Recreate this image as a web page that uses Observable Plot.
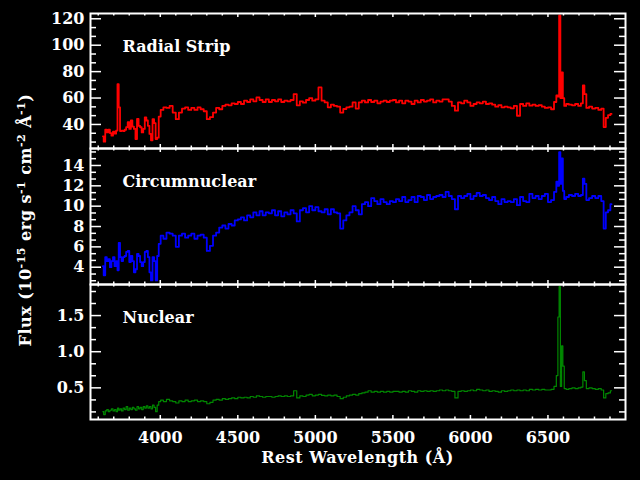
<!DOCTYPE html>
<html>
<head>
<meta charset="utf-8">
<script src="https://cdn.jsdelivr.net/npm/d3@7"></script>
<script src="https://cdn.jsdelivr.net/npm/@observablehq/plot@0.6"></script>
<style>
  html, body { margin: 0; padding: 0; background: #000; }
  #chart { position: relative; width: 640px; height: 480px; background: #000; overflow: hidden; }
  #chart > svg { position: absolute; left: 0; }
</style>
</head>
<body>
<div id="chart"></div>
<script>
// Rest wavelength grid (Å)
const wavelength = [
  3630, 3640, 3650, 3660, 3670, 3680, 3690, 3700, 3710, 3720,
  3728, 3736, 3745, 3755, 3765, 3775, 3785, 3795, 3805, 3815,
  3825, 3835, 3845, 3855, 3865, 3875, 3885, 3895, 3905, 3915,
  3925, 3935, 3945, 3955, 3965, 3975, 3985, 3995,
  4010, 4030, 4050, 4070, 4090, 4110, 4130, 4150, 4170, 4190,
  4210, 4230, 4250, 4270, 4290, 4310, 4330, 4350, 4370, 4390,
  4410, 4430, 4450, 4470, 4490, 4510, 4530, 4550, 4570, 4590,
  4610, 4630, 4650, 4670, 4690, 4710, 4730, 4750, 4770, 4790,
  4810, 4830, 4850, 4870, 4890, 4910, 4930, 4950, 4970, 4990,
  5010, 5030, 5050, 5070, 5090, 5110, 5130, 5150, 5170, 5190,
  5210, 5230, 5250, 5270, 5290, 5310, 5330, 5350, 5370, 5390,
  5410, 5430, 5450, 5470, 5490, 5510, 5530, 5550, 5570, 5590,
  5610, 5630, 5650, 5670, 5690, 5710, 5730, 5750, 5770, 5790,
  5810, 5830, 5850, 5870, 5890, 5910, 5930, 5950, 5970, 5990,
  6010, 6030, 6050, 6070, 6090, 6110, 6130, 6150, 6170, 6190,
  6210, 6230, 6250, 6270, 6290, 6310, 6330, 6350, 6370, 6390,
  6410, 6430, 6450, 6470, 6490,
  6510, 6530, 6548, 6560, 6568, 6576, 6584, 6592, 6600, 6610,
  6625, 6645, 6665, 6685, 6705, 6720, 6730, 6740, 6755, 6775,
  6795, 6815, 6835, 6852, 6866, 6880, 6895, 6910
];

// Flux, radial strip
const radialStrip = [
  31, 27, 36, 34, 36, 33.5, 31.5, 34.6, 33, 35.4,
  70.5, 53, 35, 35.3, 35, 36, 38, 41.7, 36.6, 43,
  38.4, 36.6, 29, 44.2, 39, 37.9, 34, 36.6, 45.4, 43,
  39, 32.8, 28, 44, 41, 29, 30, 46,
  51, 53, 52.5, 54, 49, 44, 49, 52, 53, 51,
  52.5, 51, 53, 51.5, 50, 44, 45.5, 49, 52.5, 51.5,
  54, 55, 54.5, 56, 55.5, 57, 55.5, 58, 57, 59,
  57.5, 60.5, 58.5, 57, 59, 57, 58.5, 57.5, 59, 57,
  58, 57.5, 58.5, 63, 54.5, 57.5, 56.5, 58.5, 60, 58,
  59, 68, 58, 56.7, 53, 55, 54, 53.5, 49, 51.7,
  53, 53.5, 56.7, 52, 56.7, 58, 56.7, 58.5, 57, 58,
  56, 57.3, 58, 57, 58, 58.5, 56.7, 58, 56, 58,
  57.3, 55.5, 58, 56.7, 58.5, 57.3, 58, 59, 56.7, 58,
  57.3, 59, 59, 57.3, 54, 50.4, 56.7, 56, 58, 56.7,
  54, 55.5, 56.7, 56, 57.3, 55.5, 56, 55, 53.5, 54.7,
  53, 53.5, 53, 52.2, 54, 46.6, 55.5, 54, 56, 54.2,
  55, 54, 54.7, 53.5, 52.5,
  53, 51.5, 57, 62, 61, 122.5, 60, 79.5, 60, 54,
  55.5, 55, 54.5, 55.5, 54, 56, 69.5, 63, 52.5, 53.5,
  52, 52.5, 51, 52, 38, 45, 47, 48
];

// Flux, circumnuclear
const circumnuclear = [
  4.1, 3.2, 5.0, 4.6, 4.8, 4.0, 4.6, 5.0, 4.1, 4.6,
  3.7, 6.4, 5.0, 4.6, 5.0, 5.1, 5.5, 5.6, 4.5, 5.1,
  4.6, 3.5, 3.8, 5.3, 5.1, 4.5, 4.1, 4.5, 5.5, 5.6,
  5.0, 3.5, 2.7, 5.0, 4.6, 2.7, 5.1, 6.3,
  7.1, 6.8, 7.4, 7.3, 7.1, 6.0, 7.1, 7.3, 6.9, 7.1,
  7.3, 6.8, 7.1, 7.2, 6.9, 5.6, 6.1, 7.1, 7.4, 7.9,
  8.1, 7.8, 8.25, 8.1, 8.6, 8.7, 8.9, 8.6, 9.1, 8.9,
  9.4, 9.1, 9.5, 9.1, 9.4, 9.3, 9.6, 9.1, 9.5, 9.0,
  9.4, 9.2, 9.6, 9.3, 8.5, 9.6, 9.8, 9.4, 10.0, 9.6,
  9.9, 9.5, 9.4, 9.7, 9.2, 9.7, 9.4, 9.3, 7.8, 8.6,
  9.1, 9.4, 10.0, 9.6, 9.2, 10.2, 10.4, 10.0, 10.8, 10.5,
  10.2, 10.7, 10.4, 10.2, 10.5, 10.4, 10.7, 10.5, 10.9, 10.4,
  10.6, 10.9, 10.4, 11.0, 10.9, 10.6, 11.1, 10.7, 10.9, 11.0,
  11.1, 10.9, 11.4, 11.0, 10.7, 9.7, 11.0, 10.8, 11.0, 11.2,
  10.7, 11.0, 11.3, 11.0, 11.1, 10.8, 10.6, 10.9, 10.5, 10.2,
  10.7, 10.4, 10.5, 10.4, 10.7, 10.1, 10.9, 10.5, 10.4, 11.2,
  10.8, 11.0, 10.7, 11.0, 11.2,
  10.4, 10.6, 11.4, 12.4, 12.0, 15.3, 12.2, 14.7, 11.5, 10.7,
  10.9, 11.1, 11.0, 11.2, 11.0, 11.1, 12.7, 12.2, 10.6, 10.8,
  11.0, 10.8, 11.0, 10.5, 7.8, 9.4, 9.6, 10.2
];

// Flux, nuclear
const nuclear = [
  0.17, 0.13, 0.18, 0.20, 0.17, 0.19, 0.21, 0.18, 0.20, 0.17,
  0.22, 0.19, 0.21, 0.18, 0.22, 0.20, 0.24, 0.19, 0.22, 0.20,
  0.23, 0.21, 0.19, 0.24, 0.21, 0.23, 0.20, 0.24, 0.22, 0.25,
  0.22, 0.24, 0.21, 0.26, 0.23, 0.17, 0.26, 0.31,
  0.33, 0.31, 0.34, 0.32, 0.31, 0.29, 0.32, 0.31, 0.33, 0.31,
  0.32, 0.33, 0.31, 0.32, 0.31, 0.28, 0.30, 0.33, 0.34, 0.33,
  0.35, 0.34, 0.35, 0.36, 0.35, 0.37, 0.36, 0.37, 0.36, 0.38,
  0.37, 0.39, 0.38, 0.37, 0.38, 0.38, 0.37, 0.38, 0.39, 0.38,
  0.39, 0.38, 0.39, 0.46, 0.36, 0.39, 0.38, 0.40, 0.41, 0.39,
  0.40, 0.41, 0.395, 0.39, 0.40, 0.39, 0.40, 0.38, 0.35, 0.37,
  0.39, 0.40, 0.41, 0.40, 0.42, 0.43, 0.44, 0.46, 0.44, 0.45,
  0.44, 0.45, 0.44, 0.45, 0.44, 0.45, 0.45, 0.44, 0.45, 0.44,
  0.46, 0.45, 0.44, 0.46, 0.45, 0.46, 0.45, 0.46, 0.45, 0.46,
  0.47, 0.46, 0.47, 0.46, 0.45, 0.36, 0.45, 0.46, 0.45, 0.46,
  0.47, 0.46, 0.48, 0.47, 0.46, 0.47, 0.45, 0.46, 0.45, 0.44,
  0.46, 0.45, 0.46, 0.47, 0.46, 0.47, 0.46, 0.47, 0.46, 0.48,
  0.47, 0.48, 0.47, 0.48, 0.47,
  0.47, 0.48, 0.52, 0.67, 1.48, 1.90, 0.52, 1.08, 0.80, 0.49,
  0.48, 0.49, 0.50, 0.49, 0.50, 0.51, 0.72, 0.60, 0.49, 0.50,
  0.49, 0.48, 0.49, 0.47, 0.36, 0.42, 0.43, 0.46
];

const panelNames = ["Radial Strip", "Circumnuclear", "Nuclear"];
const xMajorTicks = [4000, 4500, 5000, 5500, 6000, 6500];
const xMinorTicks = [3600, 3700, 3800, 3900, 4100, 4200, 4300, 4400, 4600, 4700, 4800, 4900,
  5100, 5200, 5300, 5400, 5600, 5700, 5800, 5900, 6100, 6200, 6300, 6400, 6600, 6700, 6800, 6900];
const radialMajor = [40, 60, 80, 100, 120];
const radialMinor = [26.67, 33.33, 46.67, 53.33, 66.67, 73.33, 86.67, 93.33, 106.67, 113.33];
const circumMajor = [4, 6, 8, 10, 12, 14];
const circumMinor = [2.67, 3.33, 4.67, 5.33, 6.67, 7.33, 8.67, 9.33, 10.67, 11.33, 12.67, 13.33, 14.67, 15.33];
const nuclearMajor = [0.5, 1.0, 1.5];
const nuclearMinor = [0.167, 0.333, 0.667, 0.833, 1.167, 1.333, 1.667, 1.833];
const xTitle = "Rest Wavelength (Å)";

const FONT = "DejaVu Serif";
const W = 640, ML = 90, MR = 15;
const innerW = W - ML - MR;

function panel(o) {
  const innerH = o.height - o.mt - o.mb;
  const rows = wavelength.map((w, i) => ({w, f: o.values[i]}));
  const tk = {stroke: "white", strokeWidth: 1.5};
  const marks = [
    Plot.line(rows, {x: "w", y: "f", curve: "step", stroke: o.color, strokeWidth: o.sw, clip: true}),
    Plot.frame({stroke: "white", strokeWidth: 2}),
    Plot.tickY(o.yMajor, {y: d => d, ...tk, insetRight: innerW - 11}),
    Plot.tickY(o.yMajor, {y: d => d, ...tk, insetLeft: innerW - 11}),
    Plot.tickY(o.yMinor, {y: d => d, ...tk, insetRight: innerW - 6}),
    Plot.tickY(o.yMinor, {y: d => d, ...tk, insetLeft: innerW - 6}),
    Plot.tickX(xMajorTicks, {x: d => d, ...tk, insetTop: innerH - 4}),
    Plot.tickX(xMajorTicks, {x: d => d, ...tk, insetBottom: innerH - 4}),
    Plot.tickX(xMinorTicks, {x: d => d, ...tk, insetTop: innerH - 2.5}),
    Plot.tickX(xMinorTicks, {x: d => d, ...tk, insetBottom: innerH - 2.5}),
    Plot.axisY(o.yMajor, {anchor: "left", tickSize: 0, tickPadding: 6, tickFormat: o.yFormat,
      fontSize: 16, fill: "white", label: null}),
    Plot.text([o.name], {frameAnchor: "top-left", dx: 32, dy: 27, lineAnchor: "top",
      textAnchor: "start", fill: "white", fontSize: 16, letterSpacing: 1})
  ];
  if (o.showX) {
    marks.push(Plot.axisX(xMajorTicks, {anchor: "bottom", tickSize: 0, tickPadding: 12,
      tickFormat: d => String(d), fontSize: 16, fill: "white", label: null}));
  }
  const svg = Plot.plot({
    width: W, height: o.height,
    marginLeft: ML, marginRight: MR, marginTop: o.mt, marginBottom: o.mb,
    x: o.showX ? {domain: [3550, 7000]} : {domain: [3550, 7000], axis: null},
    y: {domain: o.yDomain},
    style: {background: "transparent", color: "white", fontFamily: FONT, fontWeight: "bold", overflow: "visible"},
    marks
  });
  svg.style.top = o.top + "px";
  return svg;
}

const chart = document.getElementById("chart");
chart.append(panel({values: radialStrip, color: "#ff0000", sw: 1.8, yDomain: [21.8, 124],
  yMajor: radialMajor, yMinor: radialMinor, yFormat: d => String(d), name: panelNames[0],
  top: 0, height: 152, mt: 13, mb: 4, showX: false}));
chart.append(panel({values: circumnuclear, color: "#0000ff", sw: 1.8, yDomain: [2.3, 15.67],
  yMajor: circumMajor, yMinor: circumMinor, yFormat: d => String(d), name: panelNames[1],
  top: 144, height: 144, mt: 4, mb: 4, showX: false}));
chart.append(panel({values: nuclear, color: "#008800", sw: 1.2, yDomain: [0.062, 1.93],
  yMajor: nuclearMajor, yMinor: nuclearMinor, yFormat: d => d.toFixed(1), name: panelNames[2],
  top: 280, height: 200, mt: 4, mb: 61, showX: true}));

// Axis titles overlay
const ns = "http://www.w3.org/2000/svg";
const ov = document.createElementNS(ns, "svg");
ov.setAttribute("width", 640);
ov.setAttribute("height", 480);
ov.setAttribute("font-family", FONT);
ov.setAttribute("font-weight", "bold");
ov.setAttribute("fill", "white");
ov.style.top = "0px";
ov.style.pointerEvents = "none";
ov.innerHTML =
  `<text x="357.5" y="463" text-anchor="middle" font-size="16" letter-spacing="0.5">${xTitle}</text>` +
  `<text transform="translate(31,220) rotate(-90)" text-anchor="middle" font-size="16" letter-spacing="0.5">Flux (10` +
  `<tspan dy="-6" font-size="11">-15</tspan><tspan dy="6"> erg s</tspan>` +
  `<tspan dy="-6" font-size="11">-1</tspan><tspan dy="6"> cm</tspan>` +
  `<tspan dy="-6" font-size="11">-2</tspan><tspan dy="6"> Å</tspan>` +
  `<tspan dy="-6" font-size="11">-1</tspan><tspan dy="6">)</tspan></text>`;
chart.append(ov);
</script>
</body>
</html>
